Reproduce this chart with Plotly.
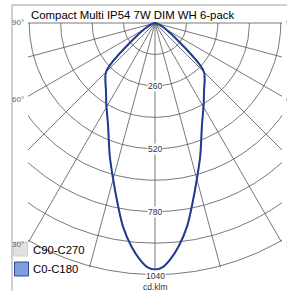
import numpy as np
import plotly.graph_objects as go

# ---------------- data ----------------
title_text = "Compact Multi IP54 7W DIM WH 6-pack"
gamma_deg = [0, 1.7, 3.7, 6.1, 9.0, 11.4, 15.7, 19.0, 24.8, 30.8, 36.0, 40.3, 44.5, 47.0, 46.5]
c0_c180 = [1019, 1011, 979, 927, 850, 772, 651, 576, 463, 393, 345, 317, 291, 255, 0]
c90_c270 = [1019, 1011, 979, 927, 850, 772, 651, 576, 463, 393, 345, 317, 291, 255, 0]
ring_values = [130, 260, 390, 520, 650, 780, 910, 1040]
ring_labels = [260, 520, 780, 1040]
spoke_angles = [-90, -75, -60, -45, -30, -15, 0, 15, 30, 45, 60, 75, 90]
angle_labels = [90, 60, 30]
legend_names = ["C90-C270", "C0-C180"]
unit_label = "cd.klm"

W, H = 287, 291
XR = 525.0
scale = 254.0 / (2 * XR)          # px per unit
cy_px = 23.0
top_px, bot_px = 20.0, 285.0
y_top = (cy_px - top_px) / scale
y_bot = -(bot_px - cy_px) / scale

GRID = "rgb(85,85,85)"
BLUE = "#1f3c93"
FONT = "Liberation Sans, Arial, sans-serif"


def full_curve(g, v):
    th = [-a for a in g[::-1]] + list(g[1:])
    r = list(v[::-1]) + list(v[1:])
    th = np.radians(np.array(th, dtype=float))
    r = np.array(r, dtype=float)
    return r * np.sin(th), -r * np.cos(th)


fig = go.Figure()

# rings
rx, ry = [], []
t = np.radians(np.linspace(-90, 90, 361))
for v in ring_values:
    rx += list(v * np.sin(t)) + [None]
    ry += list(-v * np.cos(t)) + [None]
fig.add_trace(go.Scatter(x=rx, y=ry, mode="lines", line=dict(color=GRID, width=0.8),
                         hoverinfo="skip", showlegend=False))

# spokes
R_sp = 1045
sx, sy = [], []
for a in spoke_angles:
    ar = np.radians(a)
    sx += [0, R_sp * np.sin(ar), None]
    sy += [0, -R_sp * np.cos(ar), None]
fig.add_trace(go.Scatter(x=sx, y=sy, mode="lines", line=dict(color=GRID, width=0.8),
                         hoverinfo="skip", showlegend=False))

# curves
x2, y2 = full_curve(gamma_deg, c90_c270)
fig.add_trace(go.Scatter(x=x2, y=y2, mode="lines",
                         line=dict(color="#c8c8c8", width=1.5, shape="spline", smoothing=0.6),
                         name=legend_names[0], showlegend=False))
x1, y1 = full_curve(gamma_deg, c0_c180)
fig.add_trace(go.Scatter(x=x1, y=y1, mode="lines",
                         line=dict(color=BLUE, width=2, shape="spline", smoothing=0.6),
                         name=legend_names[1], showlegend=False))

ann = []
# ring labels
for v in ring_labels:
    ann.append(dict(x=0, y=-v, xref="x", yref="y", text=str(v), showarrow=False,
                    font=dict(family=FONT, size=8.5, color="#333"),
                    bgcolor="white", borderpad=0, xanchor="center", yanchor="middle",
                    yshift=-1 if v == 1040 else 0))

# angle labels at spoke ends
for a in angle_labels:
    ar = np.radians(a)
    s, c = np.sin(ar), np.cos(ar)
    r_end = min(R_sp, XR / s)
    yy = -r_end * c
    ysh = 0 if a == 90 else -3
    for side in (-1, 1):
        ann.append(dict(x=side * XR, y=yy, xref="x", yref="y", text=f"{a}°", showarrow=False,
                        font=dict(family=FONT, size=8, color="#666"),
                        xanchor="right" if side < 0 else "left", yanchor="middle",
                        xshift=-2 if side < 0 else 2, yshift=ysh))

# title
ann.append(dict(x=29 / W, y=1 - 14.5 / H, xref="paper", yref="paper", text=title_text,
                showarrow=False, xanchor="left", yanchor="middle",
                font=dict(family=FONT, size=11.4, color="black")))
# unit
ann.append(dict(x=155 / W, y=1 - 287 / H, xref="paper", yref="paper", text=unit_label,
                showarrow=False, xanchor="center", yanchor="middle",
                font=dict(family=FONT, size=8.5, color="#333")))
# legend texts
for name, ypx in zip(legend_names, [249.5, 269]):
    ann.append(dict(x=31 / W, y=1 - ypx / H, xref="paper", yref="paper", text=name,
                    showarrow=False, xanchor="left", yanchor="middle",
                    font=dict(family=FONT, size=11.3, color="black")))

shapes = [
    # outer frame
    dict(type="rect", xref="paper", yref="paper", x0=12 / W, x1=1.05, y0=-0.05, y1=1 - 5 / H,
         line=dict(color="#a0a0a0", width=1), fillcolor="rgba(0,0,0,0)", layer="below"),
    # legend boxes
    dict(type="rect", xref="paper", yref="paper", x0=13.5 / W, x1=27.5 / W,
         y0=1 - 256 / H, y1=1 - 242 / H, line=dict(color="#d0d0d0", width=1),
         fillcolor="rgba(215,215,215,0.75)", layer="above"),
    dict(type="rect", xref="paper", yref="paper", x0=14.5 / W, x1=28.5 / W,
         y0=1 - 276 / H, y1=1 - 262 / H, line=dict(color="#2b4a9a", width=1),
         fillcolor="#7f9fdc", layer="above"),
]

fig.update_layout(
    width=W, height=H, autosize=False,
    margin=dict(l=0, r=0, t=0, b=0),
    paper_bgcolor="white", plot_bgcolor="white",
    xaxis=dict(range=[-XR, XR], domain=[28 / W, 282 / W], visible=False, fixedrange=True),
    yaxis=dict(range=[y_bot, y_top], domain=[1 - bot_px / H, 1 - top_px / H], visible=False,
               fixedrange=True),
    annotations=ann, shapes=shapes, showlegend=False,
)

fig.write_html("out.html", config={"displayModeBar": False},
               post_script="document.body.style.margin='0';document.body.style.padding='0';")
